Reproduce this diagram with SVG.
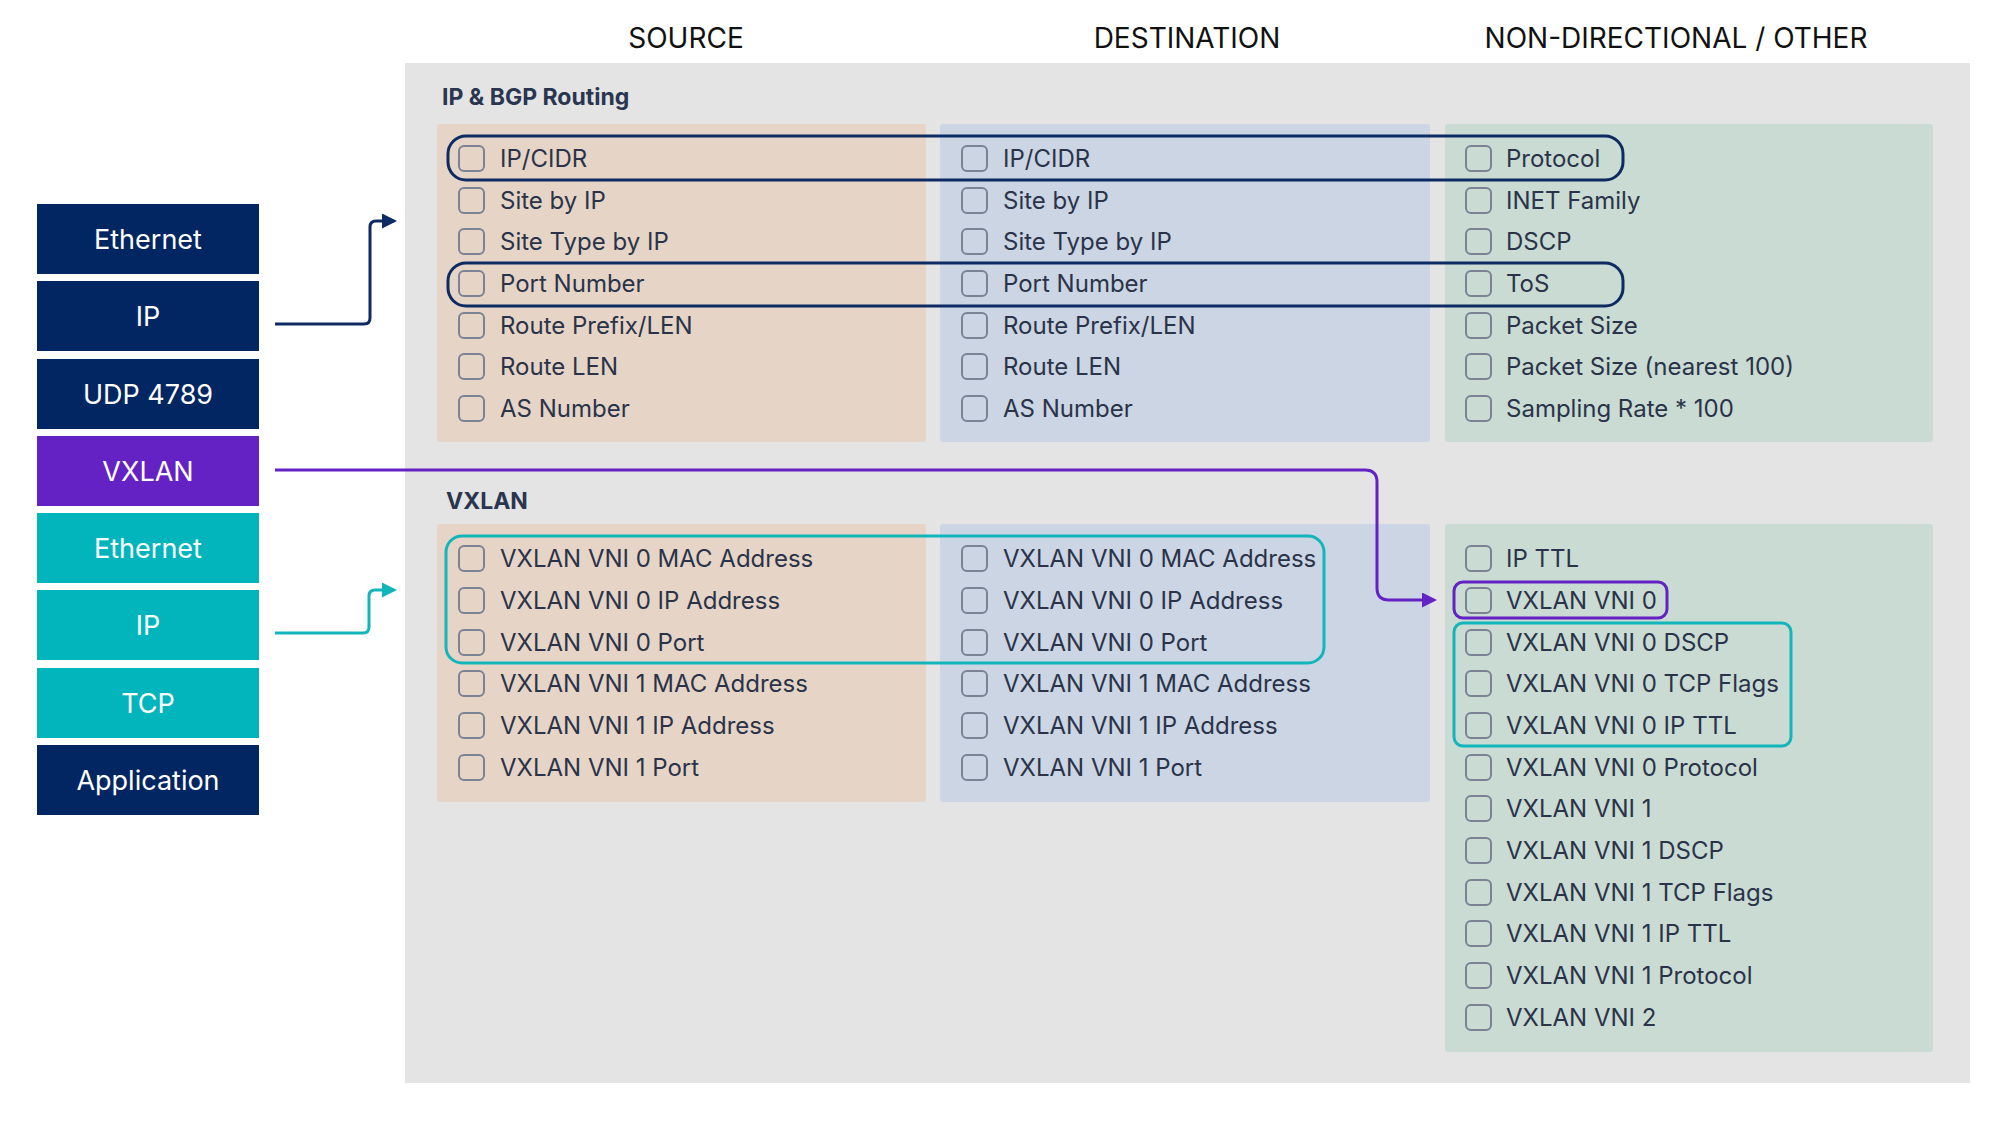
<svg xmlns="http://www.w3.org/2000/svg" width="2000" height="1124" viewBox="0 0 2000 1124">
<defs>
<style>
text{font-family:Inter,"Liberation Sans",sans-serif}
.hd{font-size:28px;fill:#111;text-anchor:middle}
.sec{font-size:23px;font-weight:700;fill:#2a3650}
.it{font-size:24px;fill:#2a3349;dominant-baseline:central}
.cb{fill:none;stroke:#7a8294;stroke-width:2}
.lay text{font-size:27px;fill:#fff;text-anchor:middle;dominant-baseline:central}
.hl{fill:none;stroke-width:3}
</style>
<marker id="an" viewBox="0 0 10 10" refX="8" refY="5" markerWidth="5" markerHeight="5" orient="auto"><path d="M0,0L10,5L0,10z" fill="#0d2a63"/></marker>
<marker id="ap" viewBox="0 0 10 10" refX="8" refY="5" markerWidth="5" markerHeight="5" orient="auto"><path d="M0,0L10,5L0,10z" fill="#6422c4"/></marker>
<marker id="at" viewBox="0 0 10 10" refX="8" refY="5" markerWidth="5" markerHeight="5" orient="auto"><path d="M0,0L10,5L0,10z" fill="#13b5bd"/></marker>
</defs>
<rect width="2000" height="1124" fill="#fff"/>
<text class="hd" x="686" y="48">SOURCE</text>
<text class="hd" x="1187" y="48">DESTINATION</text>
<text class="hd" x="1676" y="48">NON-DIRECTIONAL / OTHER</text>
<rect x="405" y="63" width="1565" height="1020" fill="#e4e4e4"/>
<text class="sec" x="442" y="105">IP &amp; BGP Routing</text>
<text class="sec" x="446" y="509">VXLAN</text>
<g id="top-source"><rect x="437" y="124" width="489" height="318" rx="3" fill="#e6d5c6"/>
<g class="it-g">
<rect class="cb" x="459" y="146" width="25" height="25" rx="5"/><text class="it" x="500" y="158">IP/CIDR</text>
<rect class="cb" x="459" y="188" width="25" height="25" rx="5"/><text class="it" x="500" y="200">Site by IP</text>
<rect class="cb" x="459" y="229" width="25" height="25" rx="5"/><text class="it" x="500" y="241">Site Type by IP</text>
<rect class="cb" x="459" y="271" width="25" height="25" rx="5"/><text class="it" x="500" y="283">Port Number</text>
<rect class="cb" x="459" y="313" width="25" height="25" rx="5"/><text class="it" x="500" y="325">Route Prefix/LEN</text>
<rect class="cb" x="459" y="354" width="25" height="25" rx="5"/><text class="it" x="500" y="366">Route LEN</text>
<rect class="cb" x="459" y="396" width="25" height="25" rx="5"/><text class="it" x="500" y="408">AS Number</text>
</g></g>
<g id="top-dest"><rect x="940" y="124" width="490" height="318" rx="3" fill="#cbd5e3"/>
<rect class="cb" x="962" y="146" width="25" height="25" rx="5"/><text class="it" x="1003" y="158">IP/CIDR</text>
<rect class="cb" x="962" y="188" width="25" height="25" rx="5"/><text class="it" x="1003" y="200">Site by IP</text>
<rect class="cb" x="962" y="229" width="25" height="25" rx="5"/><text class="it" x="1003" y="241">Site Type by IP</text>
<rect class="cb" x="962" y="271" width="25" height="25" rx="5"/><text class="it" x="1003" y="283">Port Number</text>
<rect class="cb" x="962" y="313" width="25" height="25" rx="5"/><text class="it" x="1003" y="325">Route Prefix/LEN</text>
<rect class="cb" x="962" y="354" width="25" height="25" rx="5"/><text class="it" x="1003" y="366">Route LEN</text>
<rect class="cb" x="962" y="396" width="25" height="25" rx="5"/><text class="it" x="1003" y="408">AS Number</text>
</g>
<g id="top-other"><rect x="1445" y="124" width="488" height="318" rx="3" fill="#c9dbd2"/>
<rect class="cb" x="1466" y="146" width="25" height="25" rx="5"/><text class="it" x="1506" y="158">Protocol</text>
<rect class="cb" x="1466" y="188" width="25" height="25" rx="5"/><text class="it" x="1506" y="200">INET Family</text>
<rect class="cb" x="1466" y="229" width="25" height="25" rx="5"/><text class="it" x="1506" y="241">DSCP</text>
<rect class="cb" x="1466" y="271" width="25" height="25" rx="5"/><text class="it" x="1506" y="283">ToS</text>
<rect class="cb" x="1466" y="313" width="25" height="25" rx="5"/><text class="it" x="1506" y="325">Packet Size</text>
<rect class="cb" x="1466" y="354" width="25" height="25" rx="5"/><text class="it" x="1506" y="366">Packet Size (nearest 100)</text>
<rect class="cb" x="1466" y="396" width="25" height="25" rx="5"/><text class="it" x="1506" y="408">Sampling Rate * 100</text>
</g>
<g id="vx-source"><rect x="437" y="524" width="489" height="278" rx="3" fill="#e6d5c6"/>
<rect class="cb" x="459" y="546" width="25" height="25" rx="5"/><text class="it" x="500" y="558">VXLAN VNI 0 MAC Address</text>
<rect class="cb" x="459" y="588" width="25" height="25" rx="5"/><text class="it" x="500" y="600">VXLAN VNI 0 IP Address</text>
<rect class="cb" x="459" y="630" width="25" height="25" rx="5"/><text class="it" x="500" y="642">VXLAN VNI 0 Port</text>
<rect class="cb" x="459" y="671" width="25" height="25" rx="5"/><text class="it" x="500" y="683">VXLAN VNI 1 MAC Address</text>
<rect class="cb" x="459" y="713" width="25" height="25" rx="5"/><text class="it" x="500" y="725">VXLAN VNI 1 IP Address</text>
<rect class="cb" x="459" y="755" width="25" height="25" rx="5"/><text class="it" x="500" y="767">VXLAN VNI 1 Port</text>
</g>
<g id="vx-dest"><rect x="940" y="524" width="490" height="278" rx="3" fill="#cbd5e3"/>
<rect class="cb" x="962" y="546" width="25" height="25" rx="5"/><text class="it" x="1003" y="558">VXLAN VNI 0 MAC Address</text>
<rect class="cb" x="962" y="588" width="25" height="25" rx="5"/><text class="it" x="1003" y="600">VXLAN VNI 0 IP Address</text>
<rect class="cb" x="962" y="630" width="25" height="25" rx="5"/><text class="it" x="1003" y="642">VXLAN VNI 0 Port</text>
<rect class="cb" x="962" y="671" width="25" height="25" rx="5"/><text class="it" x="1003" y="683">VXLAN VNI 1 MAC Address</text>
<rect class="cb" x="962" y="713" width="25" height="25" rx="5"/><text class="it" x="1003" y="725">VXLAN VNI 1 IP Address</text>
<rect class="cb" x="962" y="755" width="25" height="25" rx="5"/><text class="it" x="1003" y="767">VXLAN VNI 1 Port</text>
</g>
<g id="vx-other"><rect x="1445" y="524" width="488" height="528" rx="3" fill="#c9dbd2"/>
<rect class="cb" x="1466" y="546" width="25" height="25" rx="5"/><text class="it" x="1506" y="558">IP TTL</text>
<rect class="cb" x="1466" y="588" width="25" height="25" rx="5"/><text class="it" x="1506" y="600">VXLAN VNI 0</text>
<rect class="cb" x="1466" y="630" width="25" height="25" rx="5"/><text class="it" x="1506" y="642">VXLAN VNI 0 DSCP</text>
<rect class="cb" x="1466" y="671" width="25" height="25" rx="5"/><text class="it" x="1506" y="683">VXLAN VNI 0 TCP Flags</text>
<rect class="cb" x="1466" y="713" width="25" height="25" rx="5"/><text class="it" x="1506" y="725">VXLAN VNI 0 IP TTL</text>
<rect class="cb" x="1466" y="755" width="25" height="25" rx="5"/><text class="it" x="1506" y="767">VXLAN VNI 0 Protocol</text>
<rect class="cb" x="1466" y="796" width="25" height="25" rx="5"/><text class="it" x="1506" y="808">VXLAN VNI 1</text>
<rect class="cb" x="1466" y="838" width="25" height="25" rx="5"/><text class="it" x="1506" y="850">VXLAN VNI 1 DSCP</text>
<rect class="cb" x="1466" y="880" width="25" height="25" rx="5"/><text class="it" x="1506" y="892">VXLAN VNI 1 TCP Flags</text>
<rect class="cb" x="1466" y="921" width="25" height="25" rx="5"/><text class="it" x="1506" y="933">VXLAN VNI 1 IP TTL</text>
<rect class="cb" x="1466" y="963" width="25" height="25" rx="5"/><text class="it" x="1506" y="975">VXLAN VNI 1 Protocol</text>
<rect class="cb" x="1466" y="1005" width="25" height="25" rx="5"/><text class="it" x="1506" y="1017">VXLAN VNI 2</text>
</g>
<g id="highlights">
<rect class="hl" x="448" y="136" width="1175" height="44" rx="18" stroke="#0d2a63"/>
<rect class="hl" x="448" y="263" width="1175" height="43" rx="18" stroke="#0d2a63"/>
<rect class="hl" x="446" y="536" width="878" height="127" rx="16" stroke="#13b5bd"/>
<rect class="hl" x="1454" y="582" width="213" height="36" rx="9" stroke="#6422c4"/>
<rect class="hl" x="1454" y="623" width="337" height="123" rx="9" stroke="#13b5bd"/>
</g>
<g id="layers" class="lay">
<g id="l-eth1"><rect x="37" y="204" width="222" height="70" fill="#022662"/><text x="148" y="239">Ethernet</text></g>
<g id="l-ip1"><rect x="37" y="281" width="222" height="70" fill="#022662"/><text x="148" y="316">IP</text></g>
<g id="l-udp"><rect x="37" y="359" width="222" height="70" fill="#022662"/><text x="148" y="394">UDP 4789</text></g>
<g id="l-vxlan"><rect x="37" y="436" width="222" height="70" fill="#6422c4"/><text x="148" y="471">VXLAN</text></g>
<g id="l-eth2"><rect x="37" y="513" width="222" height="70" fill="#02b5bd"/><text x="148" y="548">Ethernet</text></g>
<g id="l-ip2"><rect x="37" y="590" width="222" height="70" fill="#02b5bd"/><text x="148" y="625">IP</text></g>
<g id="l-tcp"><rect x="37" y="668" width="222" height="70" fill="#02b5bd"/><text x="148" y="703">TCP</text></g>
<g id="l-app"><rect x="37" y="745" width="222" height="70" fill="#022662"/><text x="148" y="780">Application</text></g>
</g>
<g id="connectors" fill="none" stroke-width="3">
<path d="M275,324H364Q370,324 370,318V227Q370,221 376,221H394" stroke="#0d2a63" marker-end="url(#an)"/>
<path d="M275,470H1365Q1377,470 1377,482V588Q1377,600 1389,600H1434" stroke="#6422c4" marker-end="url(#ap)"/>
<path d="M275,633H363Q369,633 369,627V596Q369,590 375,590H394" stroke="#13b5bd" marker-end="url(#at)"/>
</g>
</svg>
